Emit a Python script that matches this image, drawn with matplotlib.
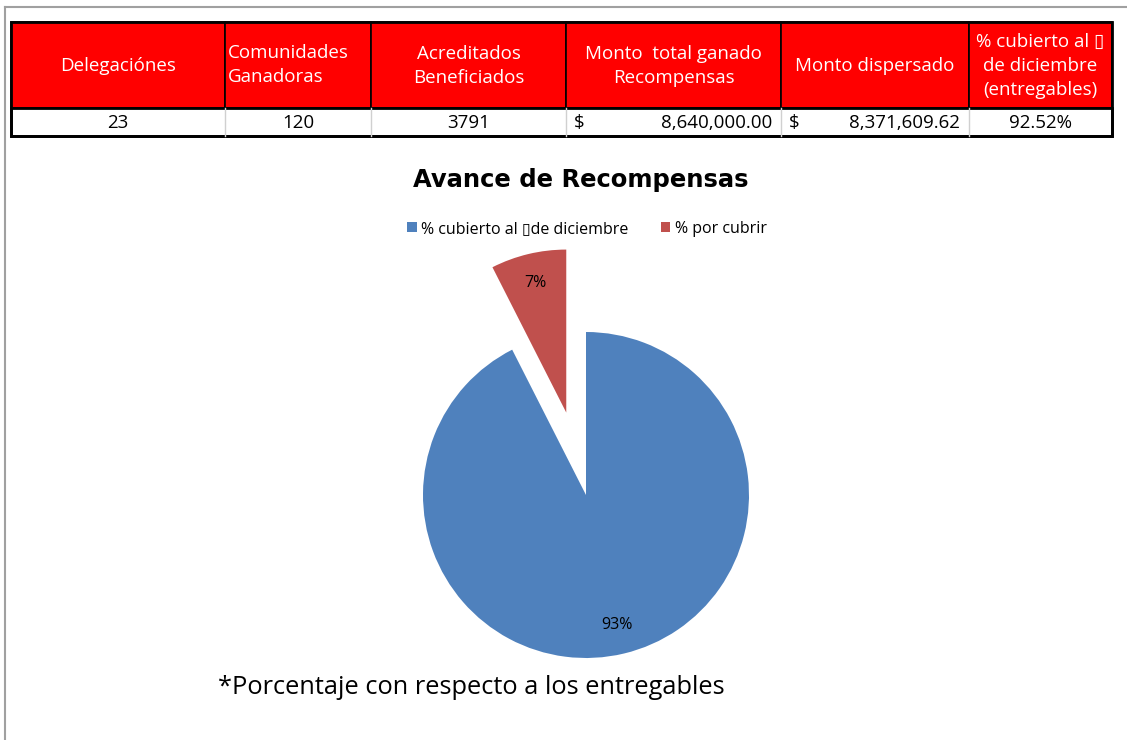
import matplotlib.pyplot as plt
from matplotlib.patches import Rectangle

plt.rcParams['font.family'] = ['Open Sans', 'DejaVu Sans']

# table data
headers = ["Delegaciónes", "Comunidades\nGanadoras", "Acreditados\nBeneficiados",
           "Monto  total ganado\nRecompensas", "Monto dispersado",
           "% cubierto al \u25af\nde diciembre\n(entregables)"]
row_values = ["23", "120", "3791", "8,640,000.00", "8,371,609.62", "92.52%"]
money_cols = [3, 4]

# pie data
pie_labels = ["% cubierto al \u25afde diciembre", "% por cubrir"]
pie_values = [92.52, 7.48]
pie_colors = ["#4F81BD", "#C0504D"]

title = "Avance de Recompensas"
note = "*Porcentaje con respecto a los entregables"

W, H = 1127, 740
fig = plt.figure(figsize=(W / 100, H / 100), dpi=100)

# background axes in pixel coordinates
bg = fig.add_axes([0, 0, 1, 1])
bg.set_xlim(0, W)
bg.set_ylim(H, 0)
bg.axis("off")

# screenshot frame
bg.plot([5, 5], [7, H], color="#a0a0a0", lw=1.5)
bg.plot([5, W], [7, 7], color="#a0a0a0", lw=1.5)

col_edges = [11, 225, 371, 566, 781, 969, 1112]
top, mid, bottom = 22, 108, 136
fs = 13.5

for i in range(len(headers)):
	x0, x1 = col_edges[i], col_edges[i + 1]
	bg.add_patch(Rectangle((x0, top), x1 - x0, mid - top, facecolor="#FF0000",
	                       edgecolor="black", lw=1.2))
	if i == 1:
		bg.text(x0 + 3, (top + mid) / 2, headers[i], ha="left", va="center",
		        color="white", fontsize=fs, linespacing=1.4)
	else:
		bg.text((x0 + x1) / 2, (top + mid) / 2 + 1, headers[i], ha="center", va="center",
		        color="white", fontsize=fs, linespacing=1.4)

	# data row
	if i > 0:
		bg.plot([x0, x0], [mid, bottom], color="#d0d0d0", lw=1)
	ty = (mid + bottom) / 2 + 1
	if i in money_cols:
		bg.text(x0 + 8, ty, "$", ha="left", va="center", fontsize=fs)
		bg.text(x1 - 9, ty, row_values[i], ha="right", va="center", fontsize=fs)
	else:
		bg.text((x0 + x1) / 2, ty, row_values[i], ha="center", va="center", fontsize=fs)

bg.add_patch(Rectangle((col_edges[0], mid), col_edges[-1] - col_edges[0], bottom - mid,
                       facecolor="none", edgecolor="black", lw=2))
bg.add_patch(Rectangle((col_edges[0], top), col_edges[-1] - col_edges[0], bottom - top,
                       facecolor="none", edgecolor="black", lw=2))

bg.text(581, 180, title, ha="center", va="center", fontsize=17.5, fontweight="bold",
        family=["DejaVu Sans"])
bg.text(218, 688, note, ha="left", va="center", fontsize=18.3)

# pie chart
cx, cy, R, half = 586, 495, 163, 300
ax = fig.add_axes([(cx - half) / W, (H - cy - half) / H, 2 * half / W, 2 * half / H])
wedges, texts, autotexts = ax.pie(pie_values, colors=pie_colors, startangle=90,
                                  counterclock=False, explode=[0, 0.52],
                                  autopct="%1.0f%%", pctdistance=0.82,
                                  textprops={"fontsize": 11.5})
ax.set_xlim(-half / R, half / R)
ax.set_ylim(-half / R, half / R)
ax.set_aspect("auto")
ax.axis("off")

fig.legend(wedges, pie_labels, loc="center", bbox_to_anchor=(587 / W, 1 - 229 / H),
           ncol=2, frameon=False, fontsize=11.5, handlelength=0.6, handleheight=0.6,
           handletextpad=0.3, columnspacing=2.0)

fig.savefig("out.png", dpi=100)
